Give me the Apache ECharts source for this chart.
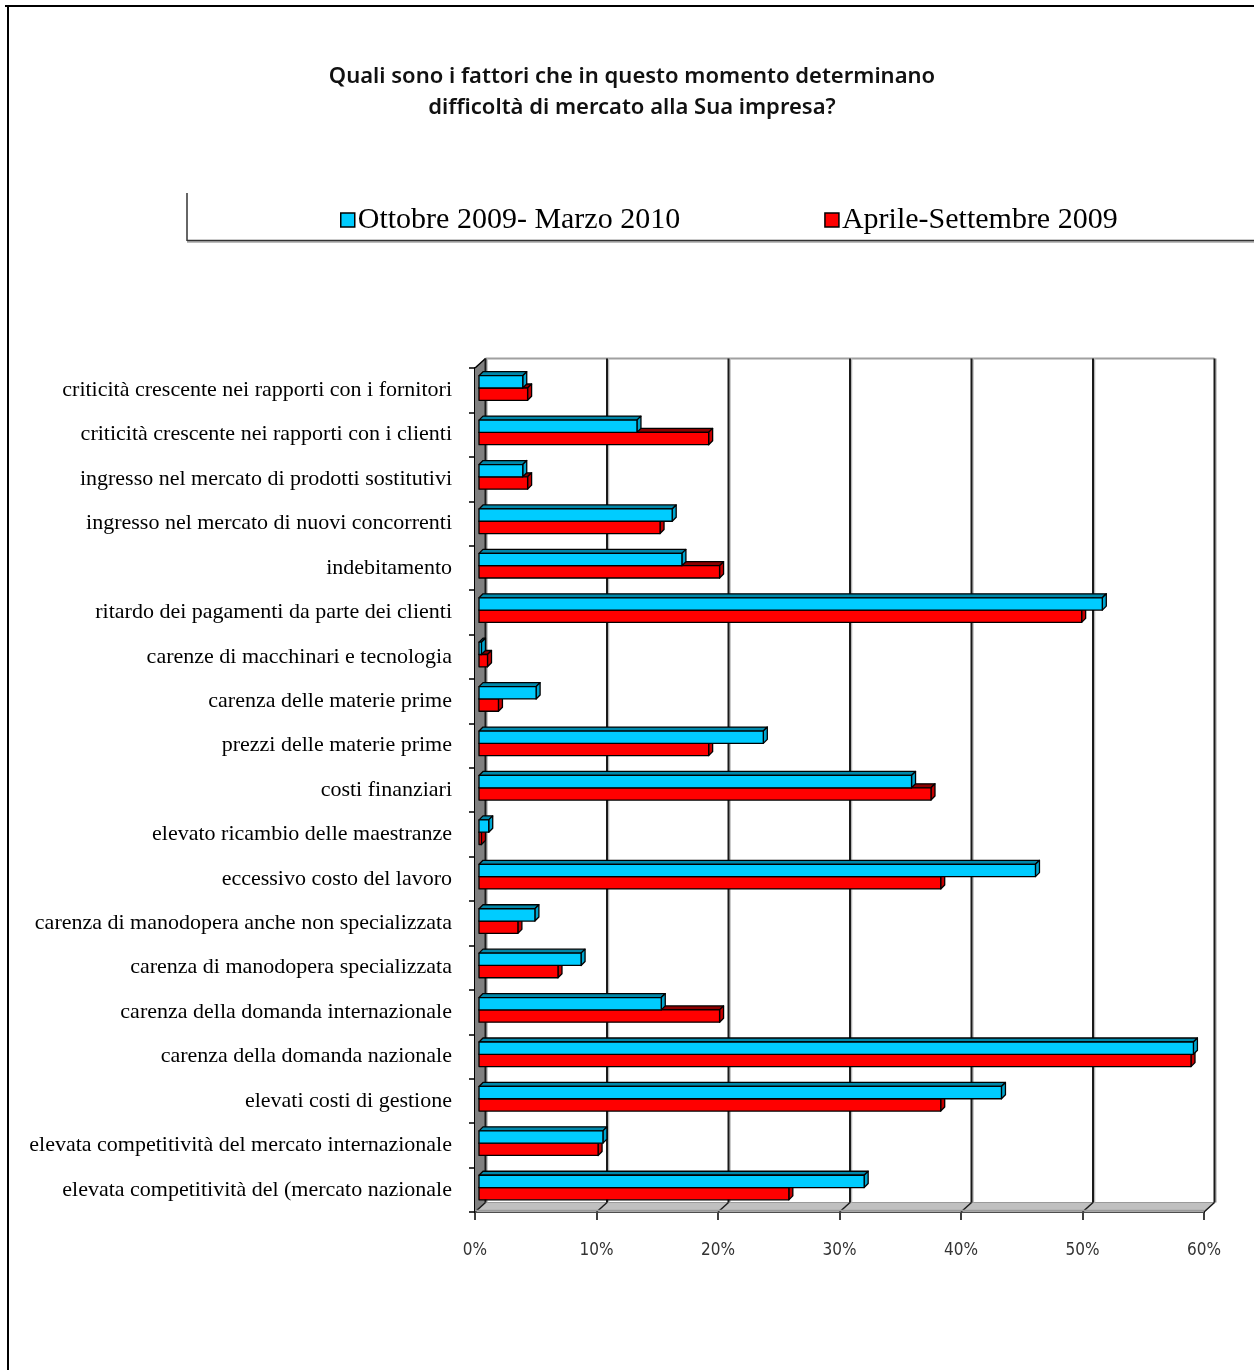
<!DOCTYPE html>
<html>
<head>
<meta charset="utf-8">
<script src="https://cdn.jsdelivr.net/npm/echarts@6/dist/echarts.min.js"></script>
<style>
  html, body { margin: 0; padding: 0; background: #fff; }
  #chart { width: 1254px; height: 1370px; }
</style>
</head>
<body>
<div id="chart"></div>
<script>
// Categories, listed top to bottom
const categories = [
  'criticità crescente nei rapporti con i fornitori',
  'criticità crescente nei rapporti con i clienti',
  'ingresso nel mercato di prodotti sostitutivi',
  'ingresso nel mercato di nuovi concorrenti',
  'indebitamento',
  'ritardo dei pagamenti da parte dei clienti',
  'carenze di macchinari e tecnologia',
  'carenza delle materie prime',
  'prezzi delle materie prime',
  'costi finanziari',
  'elevato ricambio delle maestranze',
  'eccessivo costo del lavoro',
  'carenza di manodopera anche non specializzata',
  'carenza di manodopera specializzata',
  'carenza della domanda internazionale',
  'carenza della domanda nazionale',
  'elevati costi di gestione',
  'elevata competitività del mercato internazionale',
  'elevata competitività del (mercato nazionale'
];

// Percentages, same order as categories
const ottobreMarzo = [3.6, 13.0, 3.6, 15.9, 16.7, 51.3, 0.2, 4.7, 23.4, 35.6, 0.8, 45.8, 4.6, 8.4, 15.0, 58.8, 43.0, 10.2, 31.7];
const aprileSettembre = [4.0, 18.9, 4.0, 14.9, 19.8, 49.6, 0.7, 1.6, 18.9, 37.2, 0.2, 38.0, 3.2, 6.5, 19.8, 58.6, 38.0, 9.8, 25.5];

// Value axis ticks (percent)
const xTicks = [0, 10, 20, 30, 40, 50, 60];

const seriesNames = ['Ottobre 2009- Marzo 2010', 'Aprile-Settembre 2009'];

// Depth of the chart box (walls/floor) and of each bar
const WALL_DX = 10.5, WALL_DY = -9.5;
const BAR_D = 4;

const palettes = [
  { front: '#00CCFF', top: '#0088AA', side: '#00A6D0' },
  { front: '#FF0000', top: '#8C0000', side: '#C80000' }
];

const chart = echarts.init(document.getElementById('chart'), null, { renderer: 'canvas' });

// Left wall, floor and back-wall gridlines
function renderBox(params, api) {
  const cs = params.coordSys;
  const yTop = cs.y, yBot = cs.y + cs.height;
  const x0 = api.coord([0, 0])[0];
  const x60 = api.coord([xTicks[xTicks.length - 1], 0])[0];
  const children = [];
  // floor
  children.push({
    type: 'polygon',
    shape: { points: [[x0, yBot], [x60, yBot], [x60 + WALL_DX, yBot + WALL_DY], [x0 + WALL_DX, yBot + WALL_DY]] },
    style: { fill: '#C0C0C0', stroke: '#9a9a9a', lineWidth: 1 }
  });
  // left wall
  children.push({
    type: 'polygon',
    shape: { points: [[x0, yTop], [x0, yBot], [x0 + WALL_DX, yBot + WALL_DY], [x0 + WALL_DX, yTop + WALL_DY]] },
    style: { fill: '#808080' }
  });
  // back wall top edge
  children.push({
    type: 'line',
    shape: { x1: x0 + WALL_DX, y1: yTop + WALL_DY, x2: x60 + WALL_DX, y2: yTop + WALL_DY },
    style: { stroke: '#a0a0a0', lineWidth: 2 }
  });
  // left wall top diagonal
  children.push({
    type: 'line',
    shape: { x1: x0, y1: yTop, x2: x0 + WALL_DX, y2: yTop + WALL_DY },
    style: { stroke: '#000', lineWidth: 1.5 }
  });
  xTicks.forEach(function (t) {
    const xt = api.coord([t, 0])[0];
    // vertical gridline on the back wall
    children.push({
      type: 'line',
      shape: { x1: xt + WALL_DX + 1.5, y1: yTop + WALL_DY, x2: xt + WALL_DX + 1.5, y2: yBot + WALL_DY },
      style: { stroke: '#b8b8b8', lineWidth: 1.5 }
    });
    children.push({
      type: 'line',
      shape: { x1: xt + WALL_DX, y1: yTop + WALL_DY, x2: xt + WALL_DX, y2: yBot + WALL_DY },
      style: { stroke: '#1a1a1a', lineWidth: 2 }
    });
    // diagonal across the floor
    children.push({
      type: 'line',
      shape: { x1: xt, y1: yBot, x2: xt + WALL_DX, y2: yBot + WALL_DY },
      style: { stroke: '#1a1a1a', lineWidth: 1.5 }
    });
  });
  // floor front edge shading
  children.push({
    type: 'line',
    shape: { x1: x0, y1: yBot - 1.5, x2: x60, y2: yBot - 1.5 },
    style: { stroke: '#9a9a9a', lineWidth: 1.5 }
  });
  return { type: 'group', children: children };
}

// 3D-looking horizontal bar: front face, top face and end face
function makeBarRenderer(si) {
  const pal = palettes[si];
  return function (params, api) {
    const idx = api.value(1);
    const base = api.coord([0, idx]);
    const end = api.coord([api.value(0), idx]);
    const band = api.size([0, 1])[1];
    const h = band * 0.277;
    const top = si === 0 ? base[1] - band * 0.327 : base[1] - band * 0.05;
    const x0 = base[0] + BAR_D;
    const x1 = Math.max(end[0] + BAR_D, x0 + 0.5);
    const d = BAR_D;
    const stroke = { stroke: '#000', lineWidth: 1.3, lineJoin: 'round' };
    return {
      type: 'group',
      children: [
        {
          type: 'polygon',
          shape: { points: [[x0, top], [x0 + d, top - d], [x1 + d, top - d], [x1, top]] },
          style: Object.assign({ fill: pal.top }, stroke)
        },
        {
          type: 'polygon',
          shape: { points: [[x1, top], [x1 + d, top - d], [x1 + d, top + h - d], [x1, top + h]] },
          style: Object.assign({ fill: pal.side }, stroke)
        },
        {
          type: 'rect',
          shape: { x: x0, y: top, width: x1 - x0, height: h },
          style: Object.assign({ fill: pal.front }, stroke)
        }
      ]
    };
  };
}

const option = {
  backgroundColor: '#ffffff',
  animation: false,
  graphic: [
    // outer frame
    { type: 'line', shape: { x1: 5, y1: 6, x2: 1254, y2: 6 }, style: { stroke: '#000', lineWidth: 2 } },
    { type: 'line', shape: { x1: 8, y1: 5, x2: 8, y2: 1370 }, style: { stroke: '#000', lineWidth: 2 } },
    // legend box edges
    { type: 'line', shape: { x1: 187, y1: 193, x2: 187, y2: 241 }, style: { stroke: '#333', lineWidth: 1.5 } },
    { type: 'line', shape: { x1: 187, y1: 242, x2: 1254, y2: 242 }, style: { stroke: '#bbb', lineWidth: 2 } },
    { type: 'line', shape: { x1: 187, y1: 240.5, x2: 1254, y2: 240.5 }, style: { stroke: '#333', lineWidth: 1.5 } },
    // title
    {
      type: 'text',
      style: {
        x: 632, y: 92,
        text: 'Quali sono i fattori che in questo momento determinano\ndifficoltà di mercato alla Sua impresa?',
        align: 'center', verticalAlign: 'middle',
        fontFamily: 'Noto Sans', fontSize: 22, fontWeight: 600,
        lineHeight: 31, fill: '#111'
      }
    }
  ],
  legend: {
    data: seriesNames,
    left: 335, top: 200,
    itemWidth: 14, itemHeight: 14, itemGap: 144,
    icon: 'rect',
    itemStyle: { borderColor: '#000', borderWidth: 1.5 },
    textStyle: { fontFamily: 'Liberation Serif', fontSize: 30, color: '#000', padding: [0, 0, 0, -2] },
    selectedMode: false
  },
  grid: { left: 475, right: 50, top: 368, bottom: 158 },
  xAxis: {
    type: 'value', min: 0, max: 60, interval: 10,
    axisLine: { show: true, lineStyle: { color: '#000', width: 2 } },
    axisTick: { show: true, length: 8, lineStyle: { color: '#000', width: 1.5 } },
    axisLabel: {
      formatter: '{value}%', margin: 30,
      fontFamily: 'Liberation Sans Narrow, DejaVu Sans Condensed, Liberation Sans',
      fontSize: 17, color: '#333'
    },
    splitLine: { show: false }
  },
  yAxis: {
    type: 'category', data: categories, inverse: true,
    axisLine: { show: true, lineStyle: { color: '#000', width: 2 } },
    axisTick: { show: true, length: 6, lineStyle: { color: '#000', width: 1.5 } },
    axisLabel: {
      margin: 23, fontFamily: 'Liberation Serif', fontSize: 22, color: '#000',
      padding: [3, 0, 0, 0]
    },
    splitLine: { show: false }
  },
  series: [
    {
      name: 'box', type: 'custom', renderItem: renderBox, clip: false, z: 1,
      data: [[0, 0]], silent: true, legendHoverLink: false
    },
    {
      name: seriesNames[1], type: 'custom', renderItem: makeBarRenderer(1), z: 3,
      itemStyle: { color: palettes[1].front },
      encode: { x: 0, y: 1 },
      data: aprileSettembre.map(function (v, i) { return [v, i]; })
    },
    {
      name: seriesNames[0], type: 'custom', renderItem: makeBarRenderer(0), z: 4,
      itemStyle: { color: palettes[0].front },
      encode: { x: 0, y: 1 },
      data: ottobreMarzo.map(function (v, i) { return [v, i]; })
    }
  ]
};

chart.setOption(option);
</script>
</body>
</html>
